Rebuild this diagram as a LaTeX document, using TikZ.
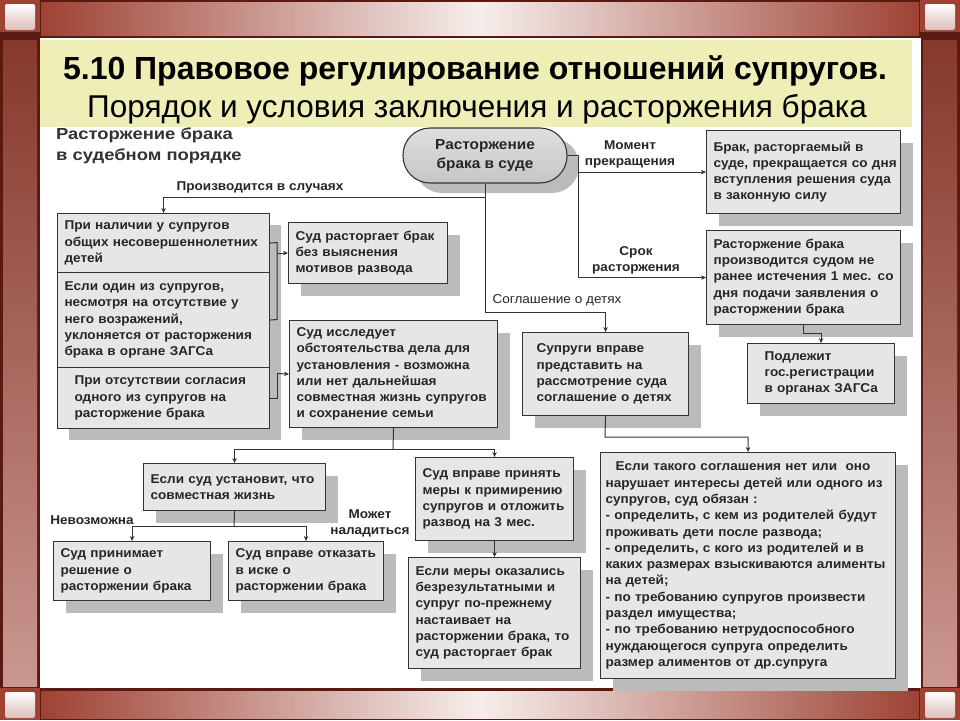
\documentclass[tikz,border=0pt]{standalone}
\usepackage{fontspec}
\setmainfont{Liberation Sans}
\newfontfamily\widef[FakeStretch=1.06]{Liberation Sans}
\newfontfamily\headf[FakeStretch=1.15]{Liberation Sans}
\usetikzlibrary{shadows,arrows.meta,calc}
\definecolor{brownD}{HTML}{5A1A12}
\definecolor{brownM}{HTML}{9E4234}
\definecolor{brownL}{HTML}{F6EEEC}
\definecolor{titlebg}{HTML}{EEEEB6}
\definecolor{boxfill}{HTML}{E6E6E6}
\definecolor{shadowc}{HTML}{BBBBBB}
\definecolor{linec}{HTML}{333333}
\definecolor{textc}{HTML}{262626}
\newcommand\bxfont{\widef\bfseries\fontsize{12.8}{16.3}\selectfont}
\newcommand\lbfont{\widef\bfseries\fontsize{12.8}{16}\selectfont}
\newcommand\hdfont{\headf\bfseries\fontsize{16}{21}\selectfont}
\newcommand\ovfont{\widef\bfseries\fontsize{14.5}{19}\selectfont}
\newcommand\ml[1]{\mbox{#1}}
\begin{document}
\begin{tikzpicture}[x=1pt,y=-1pt,
  conn/.style={draw=linec, line width=1pt},
  arr/.style={conn, -{Stealth[length=5pt,width=4.5pt]}},
  shad/.style={drop shadow={shadow xshift=12pt, shadow yshift=-12pt, fill=shadowc, opacity=1}},
  box/.style={draw=linec, line width=1.1pt, fill=boxfill, shad, inner xsep=7pt, inner ysep=2pt,
     align=left, anchor=north west, font=\bxfont, text=textc},
  part/.style={draw=linec, line width=1.1pt, fill=boxfill, inner xsep=7pt, inner ysep=2pt,
     align=left, anchor=north west, font=\bxfont, text=textc},
  lbl/.style={font=\lbfont, text=textc, inner sep=0pt, align=center},
]
\useasboundingbox (0,0) rectangle (960,720);
% ---------- frame ----------
\fill[brownD] (0,0) rectangle (960,720);
\shade[left color=brownM, right color=brownM, middle color=brownL] (41,2) rectangle (919,35);
\shade[left color=brownM, right color=brownM, middle color=brownL] (41,691) rectangle (919,718);
\shade[top color=brownM!85!black, bottom color=brownM!55!white] (3,40) rectangle (37,686);
\shade[top color=brownM!85!black, bottom color=brownM!55!white] (923,40) rectangle (957,686);
\foreach \cx/\cy in {0/0, 920/0, 0/688, 920/688}{
  \fill[brownM] (\cx,\cy) rectangle ++(40,32);
  \shade[top color=white, bottom color=brownM!35!white, rounded corners=2pt] (\cx+5,\cy+4) rectangle ++(30,26);
}
% ---------- content ----------
\fill[white] (40,38) rectangle (921,688);
\fill[titlebg] (40,40) rectangle (912,127);
\node[font=\bfseries\fontsize{32}{36}\selectfont] (t1) at (475,71) {5.10 Правовое регулирование отношений супругов.};
\node[font=\fontsize{31.5}{36}\selectfont] (t2) at (477,109) {Порядок и условия заключения и расторжения брака};

\node[anchor=north west, font=\hdfont, text=linec, align=left, inner sep=0pt] (hd) at (56,128)
  {Расторжение брака\\в судебном порядке};

% oval
\node[draw=linec, line width=1.1pt, top color=gray!25, bottom color=gray!45, rounded corners=27pt,
  minimum width=164pt, minimum height=55pt, align=center, font=\ovfont, text=textc,
  drop shadow={shadow xshift=12pt, shadow yshift=-10pt, fill=shadowc, opacity=1}] (ov) at (485,155.5)
  {Расторжение\\брака в суде};

% left group
\fill[shadowc] (69,225) rectangle (281,440);
\node[part, minimum width=212pt, minimum height=59pt, text width=198pt] (c1) at (57,213)
  {\ml{При наличии у супругов}\\\ml{общих несовершеннолетних}\\\ml{детей}};
\node[part, minimum width=212pt, minimum height=95pt, text width=198pt] (c2) at (57,272)
  {\ml{Если один из супругов,}\\\ml{несмотря на отсутствие у}\\\ml{него возражений,}\\\ml{уклоняется от расторжения}\\\ml{брака в органе ЗАГСа}};
\node[part, minimum width=212pt, minimum height=61pt, text width=178pt, inner xsep=17pt] (c3) at (57,367)
  {\ml{При отсутствии согласия}\\\ml{одного из супругов на}\\\ml{расторжение брака}};

\node[box, minimum width=159pt, minimum height=61pt, text width=145pt] (sud1) at (288,222)
  {\ml{Суд расторгает брак}\\\ml{без выяснения}\\\ml{мотивов развода}};
\node[box, minimum width=208pt, minimum height=107pt, text width=194pt] (sud2) at (289,320)
  {\ml{Суд исследует}\\\ml{обстоятельства дела для}\\\ml{установления - возможна}\\\ml{или нет дальнейшая}\\\ml{совместная жизнь супругов}\\\ml{и сохранение семьи}};

\node[box, minimum width=166pt, minimum height=83pt, text width=138pt, inner xsep=14pt] (s1) at (522,332)
  {\ml{Супруги вправе}\\\ml{представить на}\\\ml{рассмотрение суда}\\\ml{соглашение о детях}};

\node[box, minimum width=194pt, minimum height=83pt, text width=180pt] (b1) at (706,130)
  {\ml{Брак, расторгаемый в}\\\ml{суде, прекращается со дня}\\\ml{вступления решения суда}\\\ml{в законную силу}};
\node[box, minimum width=194pt, minimum height=94pt, text width=180pt] (r2) at (706,230)
  {\ml{Расторжение брака}\\\ml{производится судом не}\\\ml{ранее истечения 1 мес. со}\\\ml{дня подачи заявления о}\\\ml{расторжении брака}};
\node[box, minimum width=147pt, minimum height=60pt, text width=113pt, inner xsep=17pt] (reg) at (747,343)
  {\ml{Подлежит}\\\ml{гос.регистрации}\\\ml{в органах ЗАГСа}};

\node[box, minimum width=182pt, minimum height=47pt, text width=168pt] (est) at (143,463)
  {\ml{Если суд установит, что}\\\ml{совместная жизнь}};
\node[box, minimum width=157pt, minimum height=59pt, text width=143pt] (sp) at (53,541)
  {\ml{Суд принимает}\\\ml{решение о}\\\ml{расторжении брака}};
\node[box, minimum width=155pt, minimum height=59pt, text width=141pt] (so) at (228,541)
  {\ml{Суд вправе отказать}\\\ml{в иске о}\\\ml{расторжении брака}};
\node[box, minimum width=158pt, minimum height=83pt, text width=144pt] (pm) at (415,457)
  {\ml{Суд вправе принять}\\\ml{меры к примирению}\\\ml{супругов и отложить}\\\ml{развод на 3 мес.}};
\node[box, minimum width=172pt, minimum height=111pt, text width=158pt] (em) at (408,557)
  {\ml{Если меры оказались}\\\ml{безрезультатными и}\\\ml{супруг по-прежнему}\\\ml{настаивает на}\\\ml{расторжении брака, то}\\\ml{суд расторгает брак}};
\node[box, minimum width=295pt, minimum height=226pt, text width=285pt, inner xsep=5pt] (bb) at (600,452)
  {\ml{\hspace*{10pt}Если такого соглашения нет или \ оно}\\\ml{нарушает интересы детей или одного из}\\\ml{супругов, суд обязан :}\\\ml{- определить, с кем из родителей будут}\\\ml{проживать дети после развода;}\\\ml{- определить, с кого из родителей и в}\\\ml{каких размерах взыскиваются алименты}\\\ml{на детей;}\\\ml{- по требованию супругов произвести}\\\ml{раздел имущества;}\\\ml{- по требованию нетрудоспособного}\\\ml{нуждающегося супруга определить}\\\ml{размер алиментов от др.супруга}};

% ---------- connectors ----------
\coordinate (tr1) at (578,155.5);
\coordinate (j0) at (485,197);
\coordinate (j1) at (485,312);
\coordinate (j2) at (605,437);
\coordinate (k1) at (277,242.5);
\coordinate (k2) at (277,319.5);
\coordinate (k3) at (277,373.5);
\coordinate (j3) at (393,449);
\coordinate (j4) at (234,526);

\draw[conn] (ov.east) -- (tr1) -- (tr1 |- r2.west);
\draw[arr] (tr1 |- b1.west) -- (b1.west);
\draw[arr] (tr1 |- r2.west) -- (r2.west);
\draw[conn] (ov.south) -- (j1);
\draw[arr] (j1) -| (s1.north);
\draw[arr] (j0) -| (c1.north);
\draw[arr] (s1.south) -- (j2) -| (bb.north);
\draw[arr] (r2.south) -- ++(0,8) -| (reg.north);
\draw[conn] (c1.east) -- (k1) -- (k2) -- (c2.east);
\draw[arr] (k1 |- sud1.west) -- (sud1.west);
\draw[conn] (c3.east) -| (k3);
\draw[arr] (k3) -- (sud2.west);
\draw[conn] (sud2.south) -- (j3);
\draw[arr] (j3) -| (est.north);
\draw[arr] (j3) -| (pm.north);
\draw[conn] (est.south) -- (j4);
\draw[arr] (j4) -| (sp.north);
\draw[arr] (j4) -| (so.north);
\draw[arr] (pm.south) -- (em.north);

% ---------- labels ----------
\node[lbl] (l1) at (260,187) {Производится в случаях};
\node[lbl] (l2) at (630,154) {Момент\\прекращения};
\node[lbl] (l3) at (636,260) {Срок\\расторжения};
\node[lbl, font=\widef\fontsize{12.8}{16}\selectfont] (l4) at (557,300) {Соглашение о детях};
\node[lbl] (l5) at (92,520) {Невозможна};
\node[lbl] (l6) at (370,523) {Может\\наладиться};
\end{tikzpicture}
\end{document}
